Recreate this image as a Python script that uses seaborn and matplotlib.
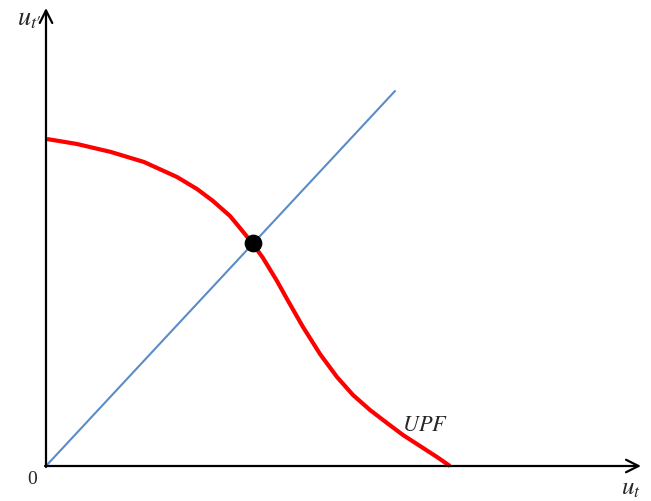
import matplotlib
matplotlib.use("Agg")
import matplotlib.pyplot as plt
import seaborn as sns

# Utility possibility frontier (UPF), read as (u_t, u_t') pairs
upf_ut = [1, 31, 65, 98, 131, 151, 167, 184, 194, 207, 217, 231, 241, 257,
          274, 291, 307, 324, 341, 357, 374, 391, 404]
upf_utp = [327, 322, 314, 304, 289, 277, 265, 250, 238, 222, 208, 185, 167, 139,
           112, 89, 71, 56, 43, 31, 20, 9, 0]

# Equality ray from the origin
ray_ut = [0, 349]
ray_utp = [0, 375]

# Equal-utility point on the frontier
eq_ut = [207]
eq_utp = [223]

sns.set_style("white")
plt.rcParams["mathtext.fontset"] = "stix"

fig = plt.figure(figsize=(6.51, 5.02), dpi=100)
ax = fig.add_axes([0, 0, 1, 1])
ax.set_xlim(-46, 605)
ax.set_ylim(-35, 467)
ax.axis("off")

# Axes with open arrowheads
arrow = dict(arrowstyle="->,head_length=0.9,head_width=0.45", color="black", lw=1.6,
             shrinkA=0, shrinkB=0)
ax.annotate("", xy=(595, 0), xytext=(-1, 0), arrowprops=arrow)
ax.annotate("", xy=(0, 458), xytext=(0, -1), arrowprops=arrow)

sns.lineplot(x=ray_ut, y=ray_utp, ax=ax, color="#5b8cc8", lw=1.5, sort=False, estimator=None)
sns.lineplot(x=upf_ut, y=upf_utp, ax=ax, color="#ff0000", lw=3.0, sort=False, estimator=None,
             solid_joinstyle="round", solid_capstyle="butt")
sns.scatterplot(x=eq_ut, y=eq_utp, ax=ax, color="black", s=140, edgecolor="black", zorder=5)

ax.text(-17, 449, r"$u_{t\prime}$", fontsize=19, ha="center", va="center")
ax.text(585, -21, r"$u_t$", fontsize=18, ha="center", va="center")
ax.text(-14, -13, "0", fontsize=14, family="Liberation Serif", ha="center", va="center")
ax.text(379, 42, r"$UPF$", fontsize=16, ha="center", va="center")

fig.savefig("out.png", dpi=100)
